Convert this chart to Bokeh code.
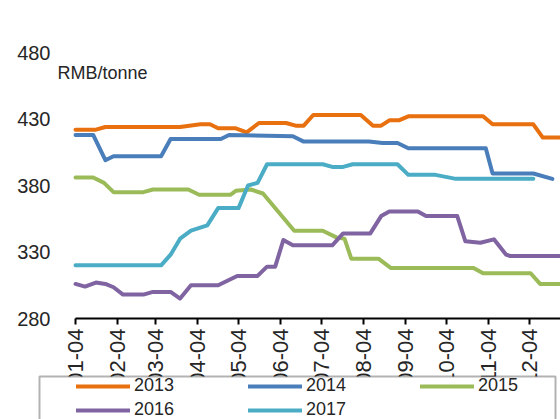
import math

from bokeh.plotting import figure
from bokeh.models import (Range1d, FixedTicker, Legend, LegendItem, Label,
                          BoxAnnotation, LinearAxis)
from bokeh.embed import file_html
from bokeh.resources import INLINE

FONT = "Liberation Sans"

# x values are day-of-year; the axis is ticked on the 4th of every month
tick_days = [4, 35, 63, 94, 124, 155, 185, 216, 247, 277, 308, 338]
tick_labels = ["01-04", "02-04", "03-04", "04-04", "05-04", "06-04",
               "07-04", "08-04", "09-04", "10-04", "11-04", "12-04"]
y_ticks = [280, 330, 380, 430, 480]

days_2013 = [4, 19, 26, 81, 96, 103, 109, 122, 130, 139, 159, 166, 172, 179,
             214, 223, 229, 235, 242, 249, 304, 311, 341, 348, 361]
price_2013 = [422, 422, 424, 424, 426, 426, 423, 423, 420, 427, 427, 425, 425,
              433, 433, 425, 425, 429, 429, 432, 432, 426, 426, 416, 416]

days_2014 = [4, 17, 26, 32, 67, 74, 111, 117, 164, 172, 220, 230, 241, 249,
             306, 311, 341, 355]
price_2014 = [418, 418, 399, 402, 402, 415, 415, 418, 417, 413, 413, 412, 412,
              408, 408, 389, 389, 385]

days_2015 = [4, 17, 25, 32, 54, 61, 87, 95, 118, 122, 133, 142, 165, 186,
             196, 202, 207, 227, 236, 297, 304, 339, 346, 361]
price_2015 = [386, 386, 382, 375, 375, 377, 377, 373, 373, 376, 377, 374, 346,
              346, 341, 340, 325, 325, 318, 318, 314, 314, 306, 306]

days_2016 = [4, 11, 19, 26, 32, 39, 54, 61, 74, 81, 89, 109, 123, 138, 145,
             151, 157, 164, 193, 201, 221, 229, 235, 256, 262, 285, 291, 302,
             312, 321, 324, 361]
price_2016 = [306, 304, 307, 306, 303.5, 298, 298, 300, 300, 295, 305, 305,
              312, 312, 319, 319, 339, 335, 335, 344, 344, 357, 360.5, 360.5,
              357, 357, 338, 337, 339.5, 328, 327, 327]

days_2017 = [4, 67, 74, 81, 89, 101, 109, 124, 131, 138, 145, 186, 193, 201,
             208, 241, 249, 269, 284, 341]
price_2017 = [320, 320, 328, 340, 346, 350, 363, 363, 380, 382, 396, 396, 394,
              394, 396, 396, 388, 388, 385, 385]

series = [
    ("2013", days_2013, price_2013, "#E8700E"),
    ("2014", days_2014, price_2014, "#4A7EBB"),
    ("2015", days_2015, price_2015, "#9BBB59"),
    ("2016", days_2016, price_2016, "#8064A2"),
    ("2017", days_2017, price_2017, "#4BACC6"),
]

# Canvas geometry: the plotting area spans the whole canvas and both axes are
# pinned inside it, so the legend panel can sit on top of the date labels.
W, H = 560, 419
AX_LEFT, AX_TOP, AX_BOTTOM = 75, 52, 318
X0, X1 = 4, 361          # day at the y axis, day at the right edge
Y0, Y1 = 280, 480        # value at the x axis, value at the top tick
px_day = (W - AX_LEFT) / (X1 - X0)
px_val = (AX_BOTTOM - AX_TOP) / (Y1 - Y0)

p = figure(width=W, height=H, title=None,
           x_range=Range1d(X0 - AX_LEFT / px_day, X1),
           y_range=Range1d(Y0 - (H - AX_BOTTOM) / px_val, Y1 + AX_TOP / px_val),
           x_axis_location=None, y_axis_location=None,
           output_backend="svg", toolbar_location=None,
           min_border=0)
p.outline_line_color = None
p.background_fill_color = "white"
p.border_fill_color = "white"
p.grid.visible = False

items = []
for name, xs, ys, color in series:
    r = p.line(xs, ys, line_color=color, line_width=4,
               line_cap="round", line_join="round")
    items.append(LegendItem(label=name, renderers=[r]))

# x axis: month ticks, labels turned upright
xa = LinearAxis(fixed_location=Y0, bounds=(X0, X1),
                ticker=FixedTicker(ticks=tick_days))
xa.major_label_overrides = {d: t for d, t in zip(tick_days, tick_labels)}
xa.major_label_orientation = math.pi / 2
xa.axis_line_color = "black"
xa.axis_line_width = 2
xa.major_tick_line_color = "black"
xa.major_tick_line_width = 2
xa.major_tick_out = 6
xa.major_tick_in = 0
xa.minor_tick_line_color = None
xa.major_label_standoff = 4
xa.major_label_text_font = FONT
xa.major_label_text_font_size = "22px"
xa.major_label_text_color = "#262626"
p.add_layout(xa, "below")

# y axis: labels only
ya = LinearAxis(fixed_location=X0, bounds=(Y0, Y1),
                ticker=FixedTicker(ticks=y_ticks))
ya.axis_line_color = None
ya.major_tick_line_color = None
ya.minor_tick_line_color = None
ya.major_tick_out = 0
ya.major_tick_in = 0
ya.major_label_standoff = 25
ya.major_label_text_font = FONT
ya.major_label_text_font_size = "20px"
ya.major_label_text_color = "#262626"
p.add_layout(ya, "left")

unit = Label(x=57, y=H - 72, x_units="screen", y_units="screen",
             text="RMB/tonne", text_font=FONT, text_font_size="18px",
             text_color="#262626", text_baseline="alphabetic")
p.add_layout(unit)

# framed legend panel sitting over the lower part of the date labels
frame_box = BoxAnnotation(left=39, right=555, top=H - 376, bottom=-10,
                          left_units="screen", right_units="screen",
                          top_units="screen", bottom_units="screen",
                          fill_color="white", fill_alpha=1.0,
                          line_color="black", line_width=2)
p.add_layout(frame_box)

legend = Legend(items=items, location=(76, -1), orientation="horizontal",
                ncols=3, glyph_width=54, glyph_height=20, label_height=20,
                label_width=111, label_standoff=4, spacing=3, padding=4,
                margin=0, border_line_color=None, background_fill_alpha=0,
                label_text_font=FONT, label_text_font_size="18px",
                label_text_color="#262626")
p.add_layout(legend)

open("out.html", "w").write(file_html(p, INLINE))
